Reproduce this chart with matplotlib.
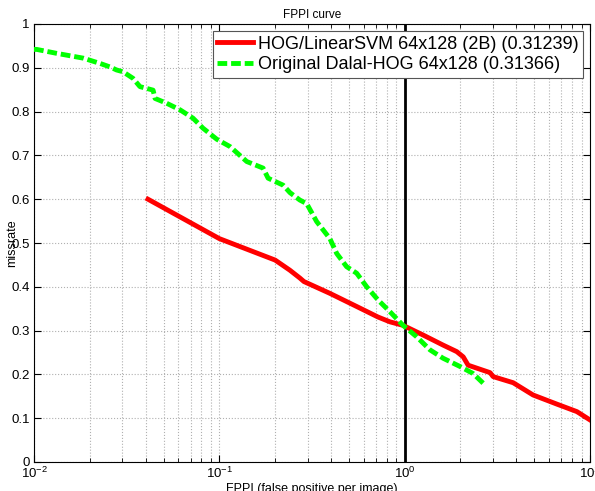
import numpy as np
import matplotlib.pyplot as plt
from matplotlib.ticker import LogLocator, NullFormatter

# HOG/LinearSVM 64x128 (2B)
svm_fppi = [0.0412, 0.1, 0.2, 0.24, 0.272, 0.286, 0.395, 0.551, 0.718, 0.833, 0.98,
            1.256, 1.61, 1.91, 2.07, 2.20, 2.89, 3.0, 3.85, 4.93, 6.64, 8.5, 10.0]
svm_miss = [0.60, 0.51, 0.461, 0.438, 0.42, 0.412, 0.385, 0.355, 0.331, 0.32, 0.312,
            0.29, 0.267, 0.252, 0.24, 0.221, 0.204, 0.195, 0.181, 0.153, 0.132, 0.115, 0.096]

# Original Dalal-HOG 64x128
dalal_fppi = [0.01, 0.01034, 0.01325, 0.01845, 0.0227, 0.0257, 0.0279, 0.0302, 0.0342,
              0.0373, 0.0405, 0.0439, 0.045, 0.052, 0.0614, 0.0721, 0.0817, 0.0968,
              0.1143, 0.1406, 0.1722, 0.1833, 0.221, 0.2405, 0.272, 0.296, 0.335,
              0.395, 0.43, 0.486, 0.551, 0.624, 0.718, 0.833, 0.98, 1.16, 1.37, 1.61,
              1.99, 2.34, 2.65]
dalal_miss = [0.942, 0.942, 0.933, 0.922, 0.910, 0.902, 0.895, 0.891, 0.876,
              0.857, 0.853, 0.849, 0.830, 0.819, 0.804, 0.785, 0.762, 0.737,
              0.72, 0.686, 0.671, 0.648, 0.632, 0.615, 0.598, 0.59, 0.549,
              0.51, 0.476, 0.446, 0.431, 0.40, 0.37, 0.343, 0.312, 0.286, 0.256, 0.237,
              0.218, 0.202, 0.18]

labels = ['HOG/LinearSVM 64x128 (2B) (0.31239)', 'Original Dalal-HOG 64x128 (0.31366)']

plt.rcParams['font.family'] = ['Liberation Sans', 'DejaVu Sans']

fig = plt.figure(figsize=(5.95, 4.91), dpi=100)
ax = fig.add_axes([34/595, 29/491, 556/595, 438/491])

ax.plot(svm_fppi, svm_miss, color='#ff0000', lw=3.5, label=labels[0], zorder=3)
ax.plot(dalal_fppi, dalal_miss, color='#00ff00', lw=3.5, ls=(0, (2, 0.8)), label=labels[1], zorder=3)
ax.plot([1, 1], [0, 1], color='black', lw=2, zorder=2)

ax.set_xscale('log')
ax.set_xlim(0.01, 10)
ax.set_ylim(0, 1)
ax.set_yticks(np.arange(0, 1.01, 0.1))
ax.set_yticklabels(['0', '0.1', '0.2', '0.3', '0.4', '0.5', '0.6', '0.7', '0.8', '0.9', '1'])
ax.xaxis.set_major_locator(LogLocator(base=10, numticks=10))
ax.xaxis.set_minor_locator(LogLocator(base=10, subs=np.arange(2, 10), numticks=20))
ax.xaxis.set_minor_formatter(NullFormatter())

ax.grid(True, which='both', axis='x', color='#b0b0b0', ls=':', lw=0.8)
ax.grid(True, which='major', axis='y', color='#b0b0b0', ls=':', lw=0.8)
ax.tick_params(which='both', direction='in', top=True, right=True, labelsize=9.5, pad=3)
ax.tick_params(which='major', length=5)
ax.tick_params(which='minor', length=3)
for s in ax.spines.values():
    s.set_linewidth(0.8)

ax.set_title('FPPI curve', fontsize=8.5, pad=4)
ax.set_xlabel('FPPI (false positive per image)', fontsize=9, labelpad=1)
ax.set_ylabel('missrate', fontsize=9)
ax.yaxis.set_label_coords(-0.029, 0.5)

leg = ax.legend(loc='upper right', fontsize=13, frameon=True, fancybox=False,
                edgecolor='#555555', framealpha=1, borderpad=0.25, labelspacing=0.2,
                handlelength=2.0, handletextpad=0.25, borderaxespad=0.4)
leg.get_frame().set_linewidth(0.8)
leg.set_zorder(5)

fig.savefig('out.png', dpi=100)
